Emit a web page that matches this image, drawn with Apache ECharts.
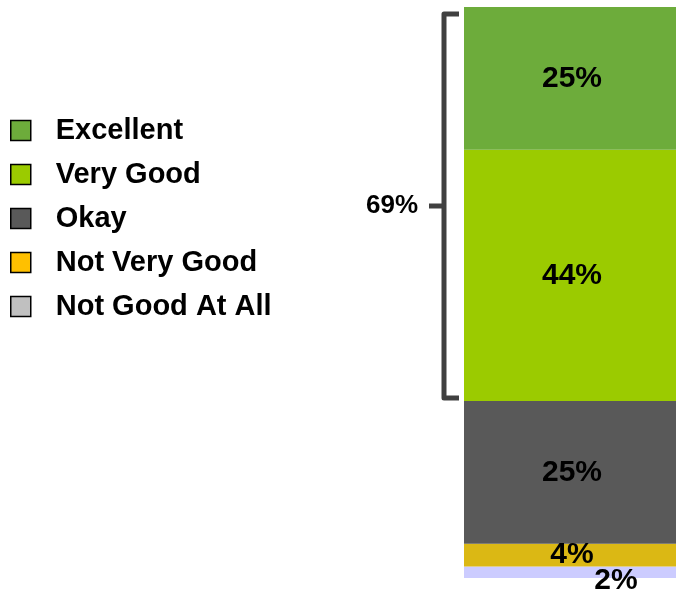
<!DOCTYPE html>
<html>
<head>
<meta charset="utf-8">
<script src="https://cdn.jsdelivr.net/npm/echarts@6/dist/echarts.min.js"></script>
<style>
  html, body { margin: 0; padding: 0; background: #fff; }
  #chart { width: 676px; height: 591px; }
</style>
</head>
<body>
<div id="chart"></div>
<script>
// Survey rating shares (percent), top of the stack first
const categories = ['Rating'];
const ratingNames = ['Excellent', 'Very Good', 'Okay', 'Not Very Good', 'Not Good At All'];
const ratingShares = [25, 44, 25, 4, 2];
const barColors = ['#6DAC3B', '#9BCB00', '#595959', '#DBB814', '#CCCCFF'];
const legendColors = ['#6DAC3B', '#9BCB00', '#595959', '#FFC000', '#C0C0C0'];
// ratings grouped by the bracket (the positive answers)
const bracketGroup = ['Excellent', 'Very Good'];

const FONT = 'Arial';

const chart = echarts.init(document.getElementById('chart'), null, { renderer: 'canvas' });

// bottom of the stack first so Excellent ends up on top
const series = [];
for (let i = ratingNames.length - 1; i >= 0; i--) {
  const isSmallest = i === ratingNames.length - 1;
  series.push({
    name: ratingNames[i],
    type: 'bar',
    stack: 'total',
    barWidth: '100%',
    data: [ratingShares[i]],
    itemStyle: { color: barColors[i] },
    label: {
      show: true,
      position: 'inside',
      formatter: '{c}%',
      color: '#000',
      fontFamily: FONT,
      fontWeight: 'bold',
      fontSize: 30,
      offset: isSmallest ? [46, 8] : [2, 0]
    },
    emphasis: { disabled: true }
  });
}

// bracket spanning the positive answers
const groupTotal = bracketGroup.reduce((s, n) => s + ratingShares[ratingNames.indexOf(n)], 0);
const stackTotal = ratingShares.reduce((s, v) => s + v, 0);
series.push({
  type: 'custom',
  name: 'bracket',
  clip: false,
  silent: true,
  data: [[0, stackTotal - groupTotal, stackTotal, groupTotal]],
  renderItem: function (params, api) {
    const lo = api.coord([api.value(0), api.value(1)]);
    const hi = api.coord([api.value(0), api.value(2)]);
    const bw = api.size([1, 0])[0];
    const barLeft = lo[0] - bw / 2;
    const bx = barLeft - 20;
    const hookEnd = barLeft - 5;
    const top = hi[1] + 7;
    const bottom = lo[1] - 3;
    const mid = (top + bottom) / 2;
    const stroke = { stroke: '#404040', lineWidth: 5, fill: null, lineJoin: 'round', lineCap: 'butt' };
    return {
      type: 'group',
      children: [
        { type: 'polyline', shape: { points: [[hookEnd, top], [bx, top], [bx, bottom], [hookEnd, bottom]] }, style: stroke },
        { type: 'line', shape: { x1: bx, y1: mid, x2: bx - 15, y2: mid }, style: stroke },
        {
          type: 'text',
          x: bx - 26, y: mid,
          style: {
            text: api.value(3) + '%',
            align: 'right', verticalAlign: 'middle',
            fill: '#000', fontFamily: FONT, fontWeight: 'bold', fontSize: 26
          }
        }
      ]
    };
  }
});

chart.setOption({
  animation: false,
  backgroundColor: '#fff',
  grid: { left: 464, right: 0, top: 7, bottom: 13 },
  xAxis: { type: 'category', data: categories, show: false },
  yAxis: { type: 'value', min: 0, max: 100, show: false },
  legend: {
    orient: 'vertical',
    left: 5,
    top: 111,
    icon: 'rect',
    itemWidth: 20,
    itemHeight: 20,
    itemGap: 15,
    selectedMode: false,
    data: ratingNames.map((n, i) => ({
      name: n,
      itemStyle: { color: legendColors[i], borderColor: '#000', borderWidth: 1.5 }
    })),
    textStyle: {
      color: '#000',
      fontFamily: FONT,
      fontWeight: 'bold',
      fontSize: 29,
      lineHeight: 28,
      padding: [0, 0, 0, 20]
    }
  },
  series: series
});
</script>
</body>
</html>
